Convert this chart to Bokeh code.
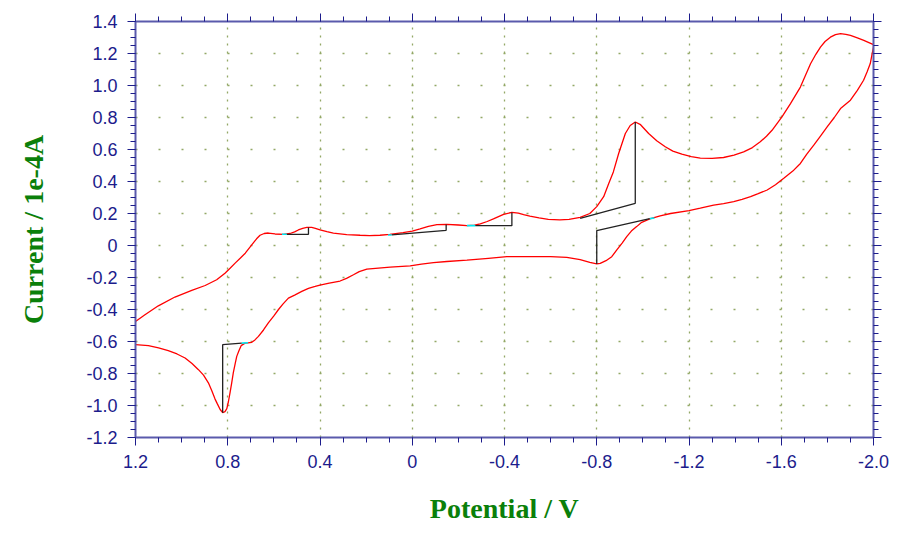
from bokeh.plotting import figure
from bokeh.models import Range1d, FixedTicker, LinearAxis
from bokeh.embed import file_html
from bokeh.resources import INLINE

# Cyclic voltammogram (potential in V, current in 1e-4 A)
potential = [
    1.2, 1.159, 1.101, 1.029, 0.956, 0.898, 0.848, 0.812, 0.79, 0.768, 0.745, 0.724,
    0.696, 0.675, 0.66, 0.642, 0.624, 0.595, 0.559, 0.53, 0.51, 0.494, 0.475, 0.457,
    0.436, 0.42, 0.40, 0.37, 0.342, 0.284, 0.226, 0.185, 0.14, 0.097, 0.04, 0.0,
    -0.034, -0.07, -0.107, -0.15, -0.2, -0.237, -0.27, -0.295, -0.325, -0.352,
    -0.396, -0.432, -0.46, -0.483, -0.51, -0.55, -0.59, -0.64, -0.68, -0.728, -0.77,
    -0.80, -0.83, -0.852, -0.872, -0.895, -0.924, -0.945, -0.967, -0.99, -1.025,
    -1.06, -1.097, -1.13, -1.169, -1.21, -1.249, -1.30, -1.35, -1.395, -1.437,
    -1.475, -1.509, -1.536, -1.56, -1.603, -1.64, -1.683, -1.727, -1.75, -1.77,
    -1.79, -1.813, -1.835, -1.857, -1.88, -1.90, -1.93, -1.958, -1.98, -2.0,
    -2.0, -1.993, -1.986, -1.972, -1.957, -1.93, -1.90, -1.857, -1.83, -1.799,
    -1.77, -1.741, -1.71, -1.683, -1.65, -1.611, -1.575, -1.539, -1.50, -1.467,
    -1.43, -1.394, -1.35, -1.307, -1.249, -1.20, -1.12, -1.075, -1.03, -0.995,
    -0.973, -0.95, -0.93, -0.91, -0.887, -0.865, -0.84, -0.815, -0.80, -0.77,
    -0.728, -0.67, -0.60, -0.525, -0.45, -0.41, -0.33, -0.237, -0.15, -0.092,
    -0.04, 0.009, 0.096, 0.197, 0.23, 0.255, 0.285, 0.313, 0.36, 0.40, 0.421, 0.45,
    0.479, 0.51, 0.537, 0.56, 0.58, 0.60, 0.624, 0.645, 0.667, 0.682, 0.696, 0.712,
    0.725, 0.742, 0.752, 0.761, 0.768, 0.776, 0.783, 0.79, 0.797, 0.804, 0.812,
    0.822, 0.833, 0.845, 0.855, 0.87, 0.884, 0.905, 0.927, 0.955, 0.985, 1.02,
    1.058, 1.10, 1.144, 1.2,
]
current = [
    -0.475, -0.433, -0.377, -0.322, -0.281, -0.25, -0.214, -0.173, -0.142, -0.11,
    -0.078, -0.048, 0.004, 0.042, 0.064, 0.075, 0.078, 0.072, 0.07, 0.075, 0.085,
    0.097, 0.107, 0.113, 0.113, 0.107, 0.097, 0.086, 0.077, 0.068, 0.064, 0.062,
    0.064, 0.07, 0.08, 0.09, 0.104, 0.12, 0.13, 0.132, 0.128, 0.124, 0.127, 0.135,
    0.15, 0.166, 0.195, 0.207, 0.202, 0.193, 0.184, 0.172, 0.163, 0.16, 0.163,
    0.176, 0.2, 0.243, 0.305, 0.388, 0.46, 0.575, 0.70, 0.75, 0.772, 0.755, 0.70,
    0.655, 0.617, 0.59, 0.571, 0.555, 0.546, 0.545, 0.55, 0.565, 0.585, 0.612,
    0.648, 0.683, 0.72, 0.804, 0.887, 0.99, 1.136, 1.195, 1.24, 1.275, 1.302,
    1.318, 1.324, 1.32, 1.313, 1.298, 1.282, 1.268, 1.255,
    1.24, 1.19, 1.137, 1.085, 1.033, 0.97, 0.908, 0.856, 0.80, 0.741, 0.684,
    0.627, 0.57, 0.513, 0.465, 0.42, 0.38, 0.347, 0.324, 0.305, 0.289, 0.274,
    0.262, 0.253, 0.233, 0.218, 0.2, 0.185, 0.166, 0.145, 0.118, 0.09, 0.055,
    0.015, -0.027, -0.07, -0.095, -0.112, -0.115, -0.105, -0.088, -0.074, -0.069,
    -0.069, -0.069, -0.07, -0.08, -0.092, -0.1, -0.107, -0.117, -0.127, -0.135,
    -0.148, -0.163, -0.183, -0.205, -0.222, -0.235, -0.247, -0.256, -0.268,
    -0.287, -0.31, -0.329, -0.365, -0.40, -0.44, -0.484, -0.528, -0.568, -0.59,
    -0.605, -0.609, -0.61, -0.626, -0.66, -0.693, -0.74, -0.796, -0.86, -0.92,
    -0.975, -1.02, -1.038, -1.045, -1.025, -0.99, -0.96, -0.905, -0.858, -0.81,
    -0.776, -0.738, -0.703, -0.678, -0.657, -0.64, -0.626, -0.62,
]

# Peak baselines (foot -> baseline under peak -> peak)
baseline_x = [
    [0.739, 0.822, 0.822],
    [0.544, 0.45, 0.45],
    [0.089, -0.147, -0.147],
    [-0.273, -0.432, -0.432],
    [-0.728, -0.967, -0.967],
    [-0.80, -0.80, -1.03],
]
baseline_y = [
    [-0.61, -0.62, -1.045],
    [0.07, 0.07, 0.113],
    [0.066, 0.095, 0.132],
    [0.124, 0.124, 0.207],
    [0.17, 0.264, 0.772],
    [-0.115, 0.093, 0.168],
]
# Short cyan markers where baselines touch the curve
cyan_x = [[0.712, 0.739], [0.565, 0.544], [0.105, 0.089], [-0.237, -0.273], [-1.03, -1.05]]
cyan_y = [[-0.608, -0.61], [0.07, 0.07], [0.066, 0.066], [0.124, 0.124], [0.168, 0.172]]

x_ticks = [1.2, 0.8, 0.4, 0.0, -0.4, -0.8, -1.2, -1.6, -2.0]
x_tick_labels = ["1.2", "0.8", "0.4", "0", "-0.4", "-0.8", "-1.2", "-1.6", "-2.0"]
y_ticks = [-1.2, -1.0, -0.8, -0.6, -0.4, -0.2, 0.0, 0.2, 0.4, 0.6, 0.8, 1.0, 1.2, 1.4]
y_tick_labels = ["-1.2", "-1.0", "-0.8", "-0.6", "-0.4", "-0.2", "0", "0.2", "0.4",
                 "0.6", "0.8", "1.0", "1.2", "1.4"]
x_minor = [round(1.2 - 0.1 * i, 2) for i in range(33)]
y_minor = [round(-1.2 + 0.05 * i, 2) for i in range(53)]

NAVY = "#1c1c8c"
AXIS_LINE = "#5a5aac"
GREEN = "#0a800a"
GRID = "#93a866"

p = figure(
    frame_width=738, frame_height=416,
    x_range=Range1d(1.2, -2.0), y_range=Range1d(-1.2, 1.4),
    output_backend="svg", toolbar_location=None,
    min_border_left=135, min_border_top=21, min_border_bottom=90, min_border_right=19,
)
p.outline_line_color = None
p.background_fill_color = "white"
p.border_fill_color = "white"

xt = FixedTicker(ticks=x_ticks, minor_ticks=x_minor)
yt = FixedTicker(ticks=y_ticks, minor_ticks=y_minor)

x_over = {t: l for t, l in zip(x_ticks, x_tick_labels)}
y_over = {t: l for t, l in zip(y_ticks, y_tick_labels)}

def style_axis(ax, ticker):
    ax.ticker = ticker
    ax.axis_line_color = AXIS_LINE
    ax.axis_line_width = 2
    ax.major_tick_line_color = NAVY
    ax.minor_tick_line_color = NAVY
    ax.major_tick_in = 0
    ax.major_tick_out = 8
    ax.minor_tick_in = 0
    ax.minor_tick_out = 5
    ax.major_tick_line_width = 1
    ax.minor_tick_line_width = 1

for ax in p.xaxis:
    style_axis(ax, xt)
    ax.major_label_overrides = x_over
    ax.major_label_text_font = "Liberation Sans"
    ax.major_label_text_font_size = "18px"
    ax.major_label_text_color = NAVY
    ax.major_label_standoff = 9
    ax.axis_label = "Potential / V"
    ax.axis_label_text_font = "Liberation Serif"
    ax.axis_label_text_font_style = "bold"
    ax.axis_label_text_font_size = "28px"
    ax.axis_label_text_color = GREEN
    ax.axis_label_standoff = 22

for ax in p.yaxis:
    style_axis(ax, yt)
    ax.major_label_overrides = y_over
    ax.major_label_text_font = "Liberation Sans"
    ax.major_label_text_font_size = "18px"
    ax.major_label_text_color = NAVY
    ax.major_label_standoff = 10
    ax.axis_label = "Current / 1e-4A"
    ax.axis_label_text_font = "Liberation Serif"
    ax.axis_label_text_font_style = "bold"
    ax.axis_label_text_font_size = "28px"
    ax.axis_label_text_color = GREEN
    ax.axis_label_standoff = 34

top = LinearAxis()
style_axis(top, FixedTicker(ticks=x_ticks, minor_ticks=x_minor))
top.major_label_text_color = None
top.major_label_standoff = 0
p.add_layout(top, "above")

right = LinearAxis()
style_axis(right, FixedTicker(ticks=y_ticks, minor_ticks=y_minor))
right.major_label_text_color = None
right.major_label_standoff = 0
p.add_layout(right, "right")

p.xgrid.ticker = xt
p.ygrid.ticker = yt
p.xgrid.grid_line_color = GRID
p.xgrid.grid_line_dash = "2 6"
p.xgrid.grid_line_width = 1.3
p.ygrid.grid_line_color = GRID
p.ygrid.grid_line_dash = "2 21"
p.ygrid.grid_line_width = 1.3

p.line(potential, current, line_color="#ff0000", line_width=1.3)
p.multi_line(baseline_x, baseline_y, line_color="#222222", line_width=1.3)
p.multi_line(cyan_x, cyan_y, line_color="#00e8f0", line_width=1.6)

open("out.html", "w").write(file_html(p, INLINE))
